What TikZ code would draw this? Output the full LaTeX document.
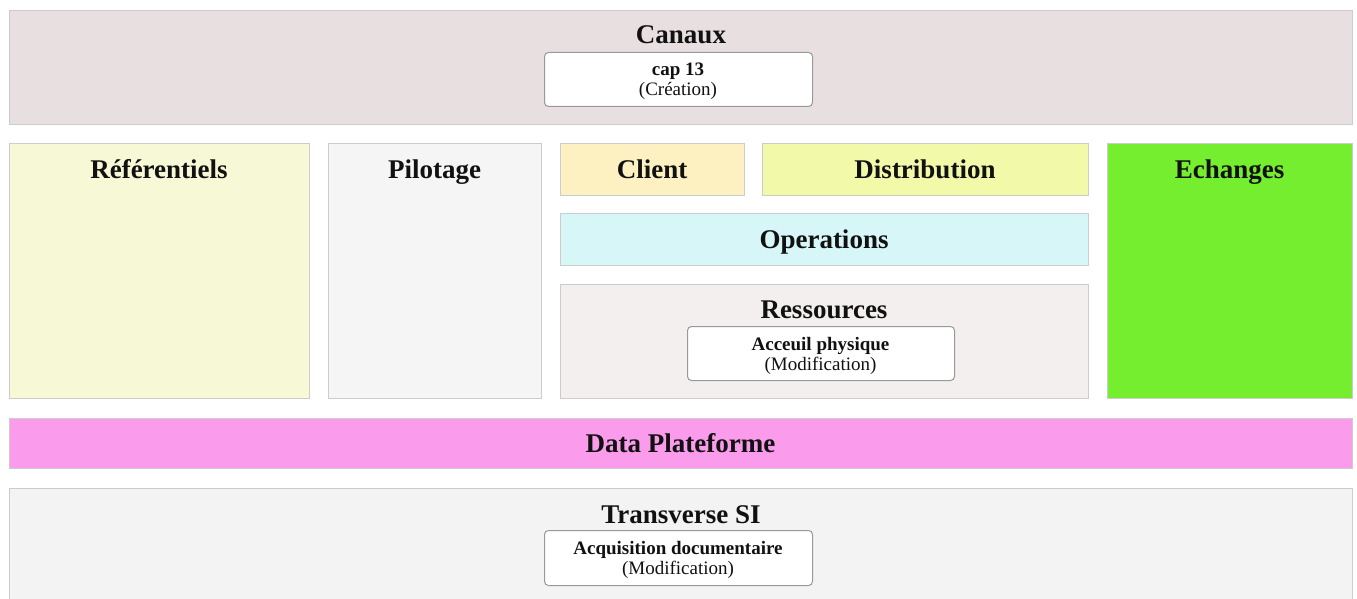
\documentclass[tikz,border=0pt]{standalone}
\usepackage{fontspec}
\setmainfont{Liberation Serif}
\definecolor{cCanaux}{HTML}{E8DFE0}
\definecolor{cRef}{HTML}{F7F8D6}
\definecolor{cPil}{HTML}{F5F5F5}
\definecolor{cCli}{HTML}{FDF1C1}
\definecolor{cDist}{HTML}{F2F9A9}
\definecolor{cEch}{HTML}{74EE2F}
\definecolor{cOps}{HTML}{D7F6F8}
\definecolor{cRes}{HTML}{F3EFEF}
\definecolor{cData}{HTML}{FA9BEC}
\definecolor{cTrans}{HTML}{F3F3F3}
\definecolor{cBorder}{HTML}{CCCCCC}
\definecolor{cInner}{HTML}{999999}
\definecolor{cText}{HTML}{111111}
\tikzset{
  area/.style={draw=cBorder, line width=1pt, inner sep=0pt, anchor=north west},
  title/.style={font=\fontsize{27}{30}\selectfont\bfseries, text=cText, inner sep=0pt, anchor=base},
  itembox/.style={draw=cInner, line width=1pt, fill=white, rounded corners=4pt, inner sep=0pt, anchor=north west},
  itemtext/.style={font=\fontsize{19}{21}\selectfont, text=cText, inner sep=0pt, anchor=base},
  itemhead/.style={itemtext, font=\fontsize{19}{21}\selectfont\bfseries}
}
\begin{document}
\begin{tikzpicture}[x=1pt,y=-1pt]
\useasboundingbox (0,0) rectangle (1357,599);
% areas
\node[area, fill=cCanaux, minimum width=1343pt, minimum height=114pt] (canaux) at (9,10) {};
\node[area, fill=cRef, minimum width=300pt, minimum height=255pt] (ref) at (9,143) {};
\node[area, fill=cPil, minimum width=213pt, minimum height=255pt] (pil) at (328,143) {};
\node[area, fill=cCli, minimum width=184pt, minimum height=52pt] (cli) at (560,143) {};
\node[area, fill=cDist, minimum width=326pt, minimum height=52pt] (dist) at (762,143) {};
\node[area, fill=cEch, minimum width=245pt, minimum height=255pt] (ech) at (1107,143) {};
\node[area, fill=cOps, minimum width=528pt, minimum height=52pt] (ops) at (560,213) {};
\node[area, fill=cRes, minimum width=528pt, minimum height=114pt] (res) at (560,284) {};
\node[area, fill=cData, minimum width=1343pt, minimum height=50pt] (data) at (9,418) {};
\node[area, fill=cTrans, minimum width=1343pt, minimum height=120pt] (trans) at (9,488) {};
% titles
\node[title] (tcanaux) at (681,44) {Canaux};
\node[title] (tref) at (159,178) {Référentiels};
\node[title] (tpil) at (434.5,178) {Pilotage};
\node[title] (tcli) at (652,178) {Client};
\node[title] (tdist) at (925,178) {Distribution};
\node[title] (tech) at (1229.5,178) {Echanges};
\node[title] (tops) at (824,248) {Operations};
\node[title] (tres) at (824,318) {Ressources};
\node[title] (tdata) at (680.5,452) {Data Plateforme};
\node[title] (ttrans) at (681,523) {Transverse SI};
% items
\node[itembox, minimum width=268pt, minimum height=54pt] (cap) at (544,52) {};
\node[itemhead] (capa) at (678,76) {cap 13};
\node[itemtext] (capb) at (678,96) {(Création)};
\node[itembox, minimum width=267pt, minimum height=54pt] (acc) at (687,326) {};
\node[itemhead] (acca) at (820.5,350) {Acceuil physique};
\node[itemtext] (accb) at (820.5,370) {(Modification)};
\node[itembox, minimum width=268pt, minimum height=55pt] (acq) at (544,530) {};
\node[itemhead] (acqa) at (678,554) {Acquisition documentaire};
\node[itemtext] (acqb) at (678,574) {(Modification)};
\end{tikzpicture}
\end{document}
